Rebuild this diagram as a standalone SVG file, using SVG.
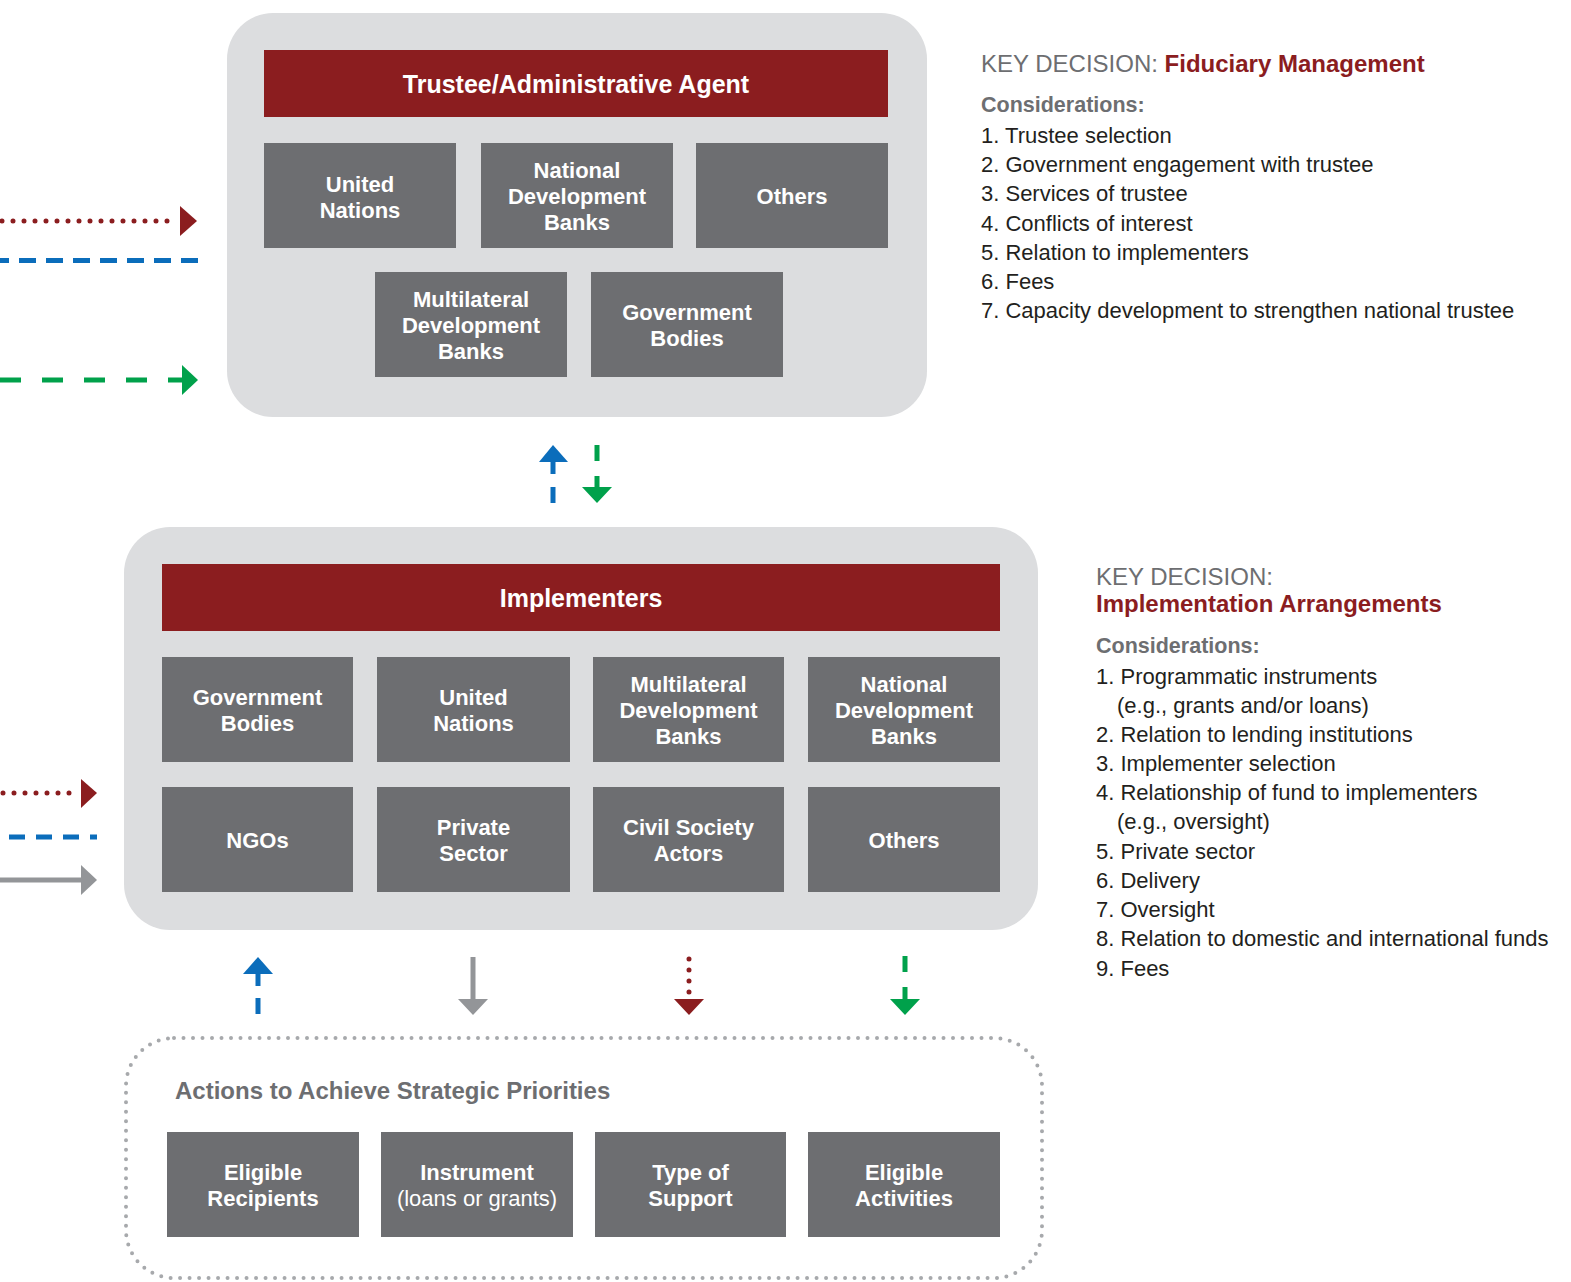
<svg xmlns="http://www.w3.org/2000/svg" width="1571" height="1282" viewBox="0 0 1571 1282">
<defs>
<style>
.cont{fill:#dcdddf}
.hdr{fill:#8b1d1f}
.box{fill:#6d6e71}
.bt{font-family:"Liberation Sans",Arial,sans-serif;font-weight:bold;font-size:22px;fill:#fff;text-anchor:middle}
.bn{font-family:"Liberation Sans",Arial,sans-serif;font-size:22px;fill:#fff;text-anchor:middle}
.ht{font-family:"Liberation Sans",Arial,sans-serif;font-weight:bold;font-size:25px;fill:#fff;text-anchor:middle}
.kd{font-family:"Liberation Sans",Arial,sans-serif;font-size:24px;fill:#6d6e71}
.kr{font-family:"Liberation Sans",Arial,sans-serif;font-size:24px;font-weight:bold;fill:#8b1d1f}
.cn{font-family:"Liberation Sans",Arial,sans-serif;font-size:21.5px;font-weight:bold;fill:#6d6e71}
.li{font-family:"Liberation Sans",Arial,sans-serif;font-size:22px;fill:#231f20}
.red{stroke:#8b1d1f;fill:none;stroke-width:5;stroke-linecap:round;stroke-dasharray:0 11}
.blue{stroke:#0b6dbb;fill:none;stroke-width:5}
.green{stroke:#00a14b;fill:none;stroke-width:5}
.gray{stroke:#939598;fill:none;stroke-width:5}
</style>
</defs>

<g id="fiduciary-container">
<rect class="cont" x="227" y="13" width="700" height="404" rx="46"/>
</g>
<g id="trustee-header">
<rect class="hdr" x="264" y="50" width="624" height="67"/>
<text class="ht" x="576" y="93">Trustee/Administrative Agent</text>
</g>
<g id="t-un"><rect class="box" x="264" y="143" width="192" height="105"/><text class="bt" x="360" y="192">United</text><text class="bt" x="360" y="218">Nations</text></g>
<g id="t-ndb"><rect class="box" x="481" y="143" width="192" height="105"/><text class="bt" x="577" y="178">National</text><text class="bt" x="577" y="204">Development</text><text class="bt" x="577" y="230">Banks</text></g>
<g id="t-others"><rect class="box" x="696" y="143" width="192" height="105"/><text class="bt" x="792" y="204">Others</text></g>
<g id="t-mdb"><rect class="box" x="375" y="272" width="192" height="105"/><text class="bt" x="471" y="307">Multilateral</text><text class="bt" x="471" y="333">Development</text><text class="bt" x="471" y="359">Banks</text></g>
<g id="t-gov"><rect class="box" x="591" y="272" width="192" height="105"/><text class="bt" x="687" y="320">Government</text><text class="bt" x="687" y="346">Bodies</text></g>

<g id="impl-container">
<rect class="cont" x="124" y="527" width="914" height="403" rx="46"/>
</g>
<g id="impl-header">
<rect class="hdr" x="162" y="564" width="838" height="67"/>
<text class="ht" x="581" y="607">Implementers</text>
</g>
<g id="i-gov"><rect class="box" x="162" y="657" width="191" height="105"/><text class="bt" x="257.5" y="705">Government</text><text class="bt" x="257.5" y="731">Bodies</text></g>
<g id="i-un"><rect class="box" x="377" y="657" width="193" height="105"/><text class="bt" x="473.5" y="705">United</text><text class="bt" x="473.5" y="731">Nations</text></g>
<g id="i-mdb"><rect class="box" x="593" y="657" width="191" height="105"/><text class="bt" x="688.5" y="692">Multilateral</text><text class="bt" x="688.5" y="718">Development</text><text class="bt" x="688.5" y="744">Banks</text></g>
<g id="i-ndb"><rect class="box" x="808" y="657" width="192" height="105"/><text class="bt" x="904" y="692">National</text><text class="bt" x="904" y="718">Development</text><text class="bt" x="904" y="744">Banks</text></g>
<g id="i-ngo"><rect class="box" x="162" y="787" width="191" height="105"/><text class="bt" x="257.5" y="848">NGOs</text></g>
<g id="i-private"><rect class="box" x="377" y="787" width="193" height="105"/><text class="bt" x="473.5" y="835">Private</text><text class="bt" x="473.5" y="861">Sector</text></g>
<g id="i-civil"><rect class="box" x="593" y="787" width="191" height="105"/><text class="bt" x="688.5" y="835">Civil Society</text><text class="bt" x="688.5" y="861">Actors</text></g>
<g id="i-others"><rect class="box" x="808" y="787" width="192" height="105"/><text class="bt" x="904" y="848">Others</text></g>

<g id="actions-container">
<rect x="126" y="1038" width="916" height="240" rx="48" fill="none" stroke="#a7a9ac" stroke-width="4" stroke-linecap="round" stroke-dasharray="0 9.5"/>
<text x="175" y="1099" font-family="Liberation Sans,Arial,sans-serif" font-weight="bold" font-size="24" fill="#6d6e71">Actions to Achieve Strategic Priorities</text>
</g>
<g id="a-recipients"><rect class="box" x="167" y="1132" width="192" height="105"/><text class="bt" x="263" y="1180">Eligible</text><text class="bt" x="263" y="1206">Recipients</text></g>
<g id="a-instrument"><rect class="box" x="381" y="1132" width="192" height="105"/><text class="bt" x="477" y="1180">Instrument</text><text class="bn" x="477" y="1206">(loans or grants)</text></g>
<g id="a-support"><rect class="box" x="595" y="1132" width="191" height="105"/><text class="bt" x="690.5" y="1180">Type of</text><text class="bt" x="690.5" y="1206">Support</text></g>
<g id="a-activities"><rect class="box" x="808" y="1132" width="192" height="105"/><text class="bt" x="904" y="1180">Eligible</text><text class="bt" x="904" y="1206">Activities</text></g>

<g id="connectors">
<line class="red" x1="2" y1="221" x2="176" y2="221"/>
<polygon points="180,206 197,221 180,236" fill="#8b1d1f"/>
<line class="blue" x1="0" y1="260.5" x2="198" y2="260.5" stroke-dasharray="17 10" stroke-dashoffset="8"/>
<line class="green" x1="0" y1="380" x2="184" y2="380" stroke-width="6" stroke-dasharray="21 21"/>
<polygon points="182,365 198,380 182,395" fill="#00a14b"/>
<polygon points="539,462 553,445 568,462" fill="#0b6dbb"/>
<line class="blue" x1="553" y1="461" x2="553" y2="474"/>
<line class="blue" x1="553" y1="487" x2="553" y2="503"/>
<line class="green" x1="597" y1="445" x2="597" y2="461"/>
<line class="green" x1="597" y1="476" x2="597" y2="488"/>
<polygon points="582,487 597,503 612,487" fill="#00a14b"/>
<line class="red" x1="3" y1="793" x2="78" y2="793"/>
<polygon points="81,779 97,793 81,808" fill="#8b1d1f"/>
<line class="blue" x1="9" y1="837" x2="97" y2="837" stroke-dasharray="16 11"/>
<line class="gray" x1="0" y1="880" x2="84" y2="880" stroke-width="6"/>
<polygon points="81,865 97,880 81,895" fill="#939598"/>
<polygon points="243,974 258,957 273,974" fill="#0b6dbb"/>
<line class="blue" x1="258" y1="973" x2="258" y2="986"/>
<line class="blue" x1="258" y1="998" x2="258" y2="1014"/>
<line class="gray" x1="473" y1="957" x2="473" y2="1000"/>
<polygon points="458,999 473,1015 488,999" fill="#939598"/>
<line class="red" x1="689" y1="959" x2="689" y2="994"/>
<polygon points="674,999 689,1015 704,999" fill="#8b1d1f"/>
<line class="green" x1="905" y1="956" x2="905" y2="972"/>
<line class="green" x1="905" y1="987" x2="905" y2="1000"/>
<polygon points="890,999 905,1015 920,999" fill="#00a14b"/>
</g>

<g id="key-fiduciary">
<text x="981" y="72"><tspan class="kd">KEY DECISION: </tspan><tspan class="kr">Fiduciary Management</tspan></text>
<text class="cn" x="981" y="112">Considerations:</text>
<text class="li" x="981" y="143">1. Trustee selection</text>
<text class="li" x="981" y="172">2. Government engagement with trustee</text>
<text class="li" x="981" y="201">3. Services of trustee</text>
<text class="li" x="981" y="231">4. Conflicts of interest</text>
<text class="li" x="981" y="260">5. Relation to implementers</text>
<text class="li" x="981" y="289">6. Fees</text>
<text class="li" x="981" y="318">7. Capacity development to strengthen national trustee</text>
</g>
<g id="key-implementation">
<text class="kd" x="1096" y="585">KEY DECISION:</text>
<text class="kr" x="1096" y="612">Implementation Arrangements</text>
<text class="cn" x="1096" y="653">Considerations:</text>
<text class="li" x="1096" y="684">1. Programmatic instruments</text>
<text class="li" x="1117" y="713">(e.g., grants and/or loans)</text>
<text class="li" x="1096" y="742">2. Relation to lending institutions</text>
<text class="li" x="1096" y="771">3. Implementer selection</text>
<text class="li" x="1096" y="800">4. Relationship of fund to implementers</text>
<text class="li" x="1117" y="829">(e.g., oversight)</text>
<text class="li" x="1096" y="859">5. Private sector</text>
<text class="li" x="1096" y="888">6. Delivery</text>
<text class="li" x="1096" y="917">7. Oversight</text>
<text class="li" x="1096" y="946">8. Relation to domestic and international funds</text>
<text class="li" x="1096" y="976">9. Fees</text>
</g>
</svg>
